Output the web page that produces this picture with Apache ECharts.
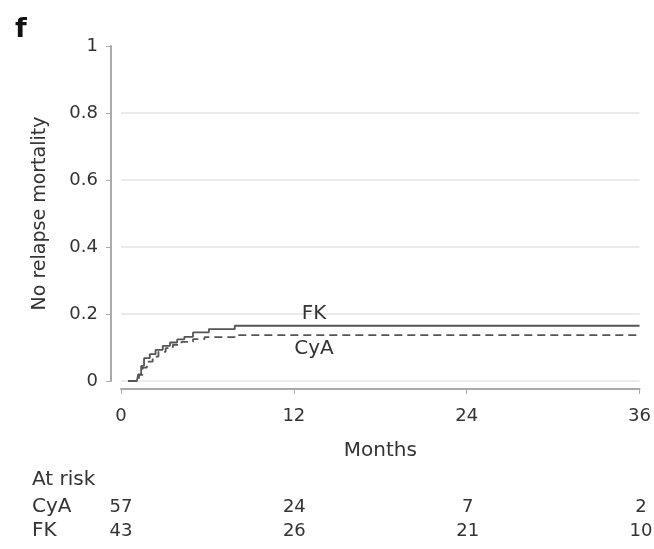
<!DOCTYPE html>
<html>
<head>
<meta charset="utf-8">
<script src="https://cdn.jsdelivr.net/npm/echarts@6/dist/echarts.min.js"></script>
<style>
  html, body { margin: 0; padding: 0; background: #fff; }
  #chart { width: 654px; height: 549px; }
</style>
</head>
<body>
<div id="chart"></div>
<script>
// step data: [month, cumulative NRM]
var fkSteps = [[0.5, 0], [1.1, 0], [1.2, 0.02], [1.4, 0.045], [1.6, 0.068], [2.0, 0.08], [2.4, 0.093],
  [2.9, 0.105], [3.4, 0.115], [3.9, 0.124], [4.4, 0.132], [5.0, 0.145], [6.1, 0.155], [7.9, 0.165], [36, 0.165]];
var cyaSteps = [[0.5, 0], [1.1, 0], [1.25, 0.018], [1.5, 0.04], [1.8, 0.058], [2.2, 0.073], [2.6, 0.087],
  [3.1, 0.098], [3.6, 0.108], [4.2, 0.117], [5.0, 0.125], [5.8, 0.131], [7.9, 0.137], [35.8, 0.137]];

var riskMonths = [0, 12, 24, 36];
var riskGroups = ['CyA', 'FK'];
var riskCyA = [57, 24, 7, 2];
var riskFK = [43, 26, 21, 10];

var font = '"DejaVu Sans", sans-serif';
var textColor = '#333';

function riskData(vals, group) {
  return riskMonths.map(function (m, i) { return { value: [m, group], label: { formatter: String(vals[i]) } }; });
}

var riskLabel = { show: true, position: 'inside', fontSize: 18, fontWeight: 'normal', color: textColor, textBorderWidth: 0 };

var chart = echarts.init(document.getElementById('chart'));
chart.setOption({
  animation: false,
  textStyle: { fontFamily: font },
  graphic: [
    { type: 'text', left: 15, top: 16, style: { text: 'f', font: 'bold 27px ' + font, fill: '#111' } },
    { type: 'text', left: 32, top: 470, style: { text: 'At risk', font: '20px ' + font, fill: textColor } },
    { type: 'text', left: 32, top: 497, style: { text: riskGroups[0], font: '20px ' + font, fill: textColor } },
    { type: 'text', left: 32, top: 521, style: { text: riskGroups[1], font: '20px ' + font, fill: textColor } }
  ],
  grid: [
    { left: 121, right: 13, top: 46, bottom: 168 },
    { left: 121, right: 13, top: 495, height: 48 }
  ],
  xAxis: [{
    gridIndex: 0, type: 'value', min: 0, max: 36, interval: 12,
    offset: 8,
    name: 'Months', nameLocation: 'middle', nameGap: 52,
    nameTextStyle: { fontSize: 20, color: textColor, fontFamily: font },
    axisLine: { show: true, onZero: false, lineStyle: { color: '#aaa', width: 2 } },
    axisTick: { show: true, length: 5, lineStyle: { color: '#aaa' } },
    axisLabel: { fontSize: 18, color: textColor, margin: 18 },
    splitLine: { show: false }
  }, {
    gridIndex: 1, type: 'value', min: 0, max: 36, interval: 12,
    axisLine: { show: false }, axisTick: { show: false }, axisLabel: { show: false }, splitLine: { show: false }
  }],
  yAxis: [{
    gridIndex: 0, type: 'value', min: 0, max: 1, interval: 0.2,
    offset: 10,
    name: 'No relapse mortality', nameLocation: 'middle', nameGap: 61, nameRotate: 90,
    nameTextStyle: { fontSize: 19, color: textColor, fontFamily: font },
    axisLine: { show: true, onZero: false, lineStyle: { color: '#aaa', width: 2 } },
    axisTick: { show: true, length: 5, lineStyle: { color: '#aaa' } },
    axisLabel: { fontSize: 18, color: textColor, margin: 13 },
    splitLine: { show: true, lineStyle: { color: ['#e4e4e4', '#e4e4e4', '#e4e4e4', '#e4e4e4', '#e4e4e4', 'transparent'], width: 1.5 } }
  }, {
    gridIndex: 1, type: 'category', data: riskGroups, inverse: true,
    axisLine: { show: false }, axisTick: { show: false }, splitLine: { show: false },
    axisLabel: { show: false }
  }],
  series: [{
    name: 'FK', type: 'line', step: 'end', data: fkSteps, showSymbol: false,
    lineStyle: { color: '#555', width: 1.8 },
    markPoint: {
      symbol: 'circle', symbolSize: 0,
      label: { show: true, position: 'inside', formatter: 'FK', fontSize: 20, color: textColor, textBorderWidth: 0 },
      data: [{ coord: [13.4, 0.2] }]
    }
  }, {
    name: 'CyA', type: 'line', step: 'end', data: cyaSteps, showSymbol: false,
    lineStyle: { color: '#555', width: 1.8, type: [8, 5] },
    markPoint: {
      symbol: 'circle', symbolSize: 0,
      label: { show: true, position: 'inside', formatter: 'CyA', fontSize: 20, color: textColor, textBorderWidth: 0 },
      data: [{ coord: [13.4, 0.096] }]
    }
  }, {
    type: 'scatter', xAxisIndex: 1, yAxisIndex: 1, symbolSize: 0,
    itemStyle: { opacity: 1 },
    label: riskLabel,
    data: riskData(riskCyA, 'CyA')
  }, {
    type: 'scatter', xAxisIndex: 1, yAxisIndex: 1, symbolSize: 0,
    itemStyle: { opacity: 1 },
    label: riskLabel,
    data: riskData(riskFK, 'FK')
  }]
});
</script>
</body>
</html>
